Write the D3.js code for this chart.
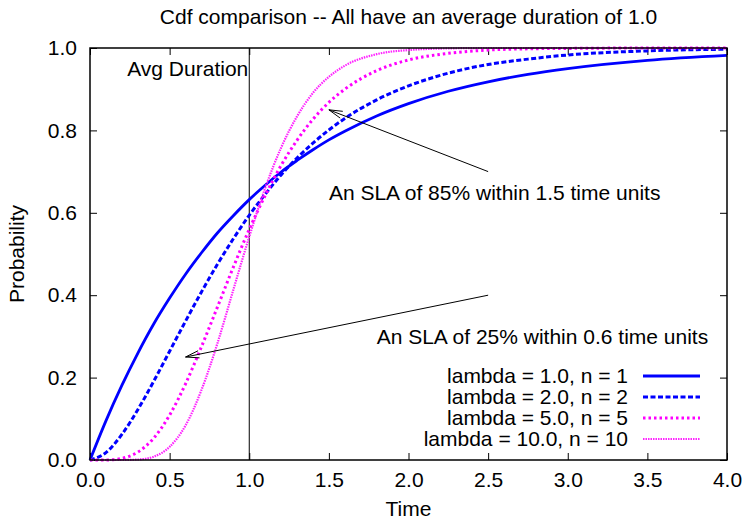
<!DOCTYPE html>
<html>
<head>
<meta charset="utf-8">
<script src="https://cdn.jsdelivr.net/npm/d3@7"></script>
<style>
  body { margin: 0; background: #fff; }
  svg text { font-family: "Liberation Sans", Arial, Helvetica, sans-serif; font-size: 21px; fill: #000; }
</style>
</head>
<body>
<div id="cdfChart"></div>
<script>
var times = [0, 0.1, 0.2, 0.3, 0.4, 0.5, 0.6, 0.7, 0.8, 0.9, 1.0, 1.1, 1.2, 1.3, 1.4, 1.5, 1.6, 1.8, 2.0, 2.25, 2.5, 2.75, 3.0, 3.5, 4.0];

// probability values, one array per curve
var cdf1  = [0, 0.095, 0.181, 0.259, 0.330, 0.393, 0.451, 0.503, 0.551, 0.593, 0.632, 0.667, 0.699, 0.727, 0.753, 0.777, 0.798, 0.835, 0.865, 0.895, 0.918, 0.936, 0.950, 0.970, 0.982];
var cdf2  = [0, 0.018, 0.062, 0.122, 0.191, 0.264, 0.337, 0.408, 0.475, 0.537, 0.594, 0.645, 0.692, 0.733, 0.769, 0.801, 0.829, 0.874, 0.908, 0.939, 0.960, 0.973, 0.983, 0.993, 0.997];
var cdf5  = [0, 0.000, 0.004, 0.019, 0.053, 0.109, 0.185, 0.275, 0.371, 0.468, 0.560, 0.642, 0.715, 0.776, 0.827, 0.868, 0.900, 0.945, 0.971, 0.987, 0.995, 0.998, 0.999, 1.000, 1.000];
var cdf10 = [0, 0.000, 0.000, 0.001, 0.008, 0.032, 0.084, 0.170, 0.283, 0.413, 0.542, 0.660, 0.758, 0.834, 0.891, 0.930, 0.957, 0.985, 0.995, 0.999, 1.000, 1.000, 1.000, 1.000, 1.000];

var seriesLabels = ["lambda = 1.0, n = 1", "lambda = 2.0, n = 2", "lambda = 5.0, n = 5", "lambda = 10.0, n = 10"];

var xTicks = [0, 0.5, 1.0, 1.5, 2.0, 2.5, 3.0, 3.5, 4.0];
var yTicks = [0, 0.2, 0.4, 0.6, 0.8, 1.0];

var avgDuration = 1.0;

// annotations: text at [x, y], arrow from -> to
var noteTexts = ["An SLA of 85% within 1.5 time units", "An SLA of 25% within 0.6 time units"];
var notePos = [[1.5, 0.65], [1.8, 0.3]];
var arrowFrom = [[2.5, 0.7], [2.5, 0.4]];
var arrowTo = [[1.5, 0.85], [0.6, 0.25]];

// line looks
var lineStyles = [
    {color: "#0000ff", width: 2.8, dash: null},
    {color: "#0000ff", width: 3, dash: "5,2.5"},
    {color: "#ff00ff", width: 3, dash: "2.5,3"},
    {color: "#ff22ff", width: 2.2, dash: "1.5,1"}
];

var margin = {top: 48, right: 16, bottom: 60, left: 90},
    width = 743 - margin.left - margin.right,
    height = 520 - margin.top - margin.bottom;

var root = d3.select("#cdfChart")
  .append("svg")
    .attr("width", 743)
    .attr("height", 520);

var svg = root.append("g")
    .attr("transform", "translate(" + margin.left + "," + margin.top + ")");

var xScale = d3.scaleLinear().domain([0, 4]).range([0, width]);
var yScale = d3.scaleLinear().domain([0, 1]).range([height, 0]);

// title and axis titles
root.append("text")
    .attr("x", margin.left + width / 2)
    .attr("y", 24)
    .attr("text-anchor", "middle")
    .text("Cdf comparison -- All have an average duration of 1.0");

root.append("text")
    .attr("x", margin.left + width / 2)
    .attr("y", 516)
    .attr("text-anchor", "middle")
    .text("Time");

root.append("text")
    .attr("transform", "translate(24," + (margin.top + height / 2) + ") rotate(-90)")
    .attr("text-anchor", "middle")
    .text("Probability");

// axes, ticks pointing inwards on all four sides
const styleAxis = g => {
    g.select(".domain").remove();
    g.selectAll("line").attr("stroke", "#000");
    g.selectAll("text").style("font-size", "21px").attr("fill", "#000");
};

svg.append("g")
    .attr("transform", "translate(0," + height + ")")
    .call(d3.axisBottom(xScale).tickValues(xTicks).tickFormat(d3.format(".1f"))
        .tickSizeInner(-7).tickSizeOuter(0).tickPadding(12))
    .call(styleAxis);
svg.append("g")
    .call(d3.axisTop(xScale).tickValues(xTicks).tickFormat("")
        .tickSizeInner(-7).tickSizeOuter(0))
    .call(styleAxis);
svg.append("g")
    .call(d3.axisLeft(yScale).tickValues(yTicks).tickFormat(d3.format(".1f"))
        .tickSizeInner(-7).tickSizeOuter(0).tickPadding(13))
    .call(styleAxis);
svg.append("g")
    .attr("transform", "translate(" + width + ",0)")
    .call(d3.axisRight(yScale).tickValues(yTicks).tickFormat("")
        .tickSizeInner(-7).tickSizeOuter(0))
    .call(styleAxis);

// average duration marker
svg.append("line")
    .attr("x1", xScale(avgDuration)).attr("x2", xScale(avgDuration))
    .attr("y1", yScale(0)).attr("y2", yScale(1))
    .attr("stroke", "#000").attr("stroke-width", 1);
svg.append("text")
    .attr("x", xScale(avgDuration) - 1)
    .attr("y", yScale(0.95))
    .attr("dy", "0.35em")
    .attr("text-anchor", "end")
    .text("Avg Duration");

// curves
var allSeries = [cdf1, cdf2, cdf5, cdf10];
var line = d3.line()
    .x((d, i) => xScale(times[i]))
    .y(d => yScale(d))
    .curve(d3.curveMonotoneX);

svg.selectAll("path.curve")
    .data(allSeries)
    .enter()
    .append("path")
    .attr("class", "curve")
    .attr("d", d => line(d))
    .attr("fill", "none")
    .attr("stroke", (d, i) => lineStyles[i].color)
    .attr("stroke-width", (d, i) => lineStyles[i].width)
    .attr("stroke-dasharray", (d, i) => lineStyles[i].dash);

// annotation texts and arrows
svg.selectAll("text.note")
    .data(noteTexts)
    .enter()
    .append("text")
    .attr("class", "note")
    .attr("x", (d, i) => xScale(notePos[i][0]))
    .attr("y", (d, i) => yScale(notePos[i][1]))
    .attr("dy", "0.35em")
    .text(d => d);

arrowFrom.forEach((from, i) => {
    var x1 = xScale(from[0]), y1 = yScale(from[1]);
    var x2 = xScale(arrowTo[i][0]), y2 = yScale(arrowTo[i][1]);
    var ang = Math.atan2(y1 - y2, x1 - x2);
    var len = 14, spread = Math.PI / 12;
    svg.append("line")
        .attr("x1", x1).attr("y1", y1).attr("x2", x2).attr("y2", y2)
        .attr("stroke", "#000").attr("stroke-width", 1);
    svg.append("path")
        .attr("d", "M" + (x2 + len * Math.cos(ang + spread)) + "," + (y2 + len * Math.sin(ang + spread)) +
                   "L" + x2 + "," + y2 +
                   "L" + (x2 + len * Math.cos(ang - spread)) + "," + (y2 + len * Math.sin(ang - spread)))
        .attr("fill", "none")
        .attr("stroke", "#000")
        .attr("stroke-width", 1);
});

// legend, lower right inside the plot
var legend = root.append("g")
    .attr("transform", "translate(628,376)");

var rows = legend.selectAll("g")
    .data(seriesLabels)
    .enter()
    .append("g")
    .attr("transform", (d, i) => "translate(0," + (i * 21) + ")");

rows.append("text")
    .attr("text-anchor", "end")
    .attr("dy", "0.35em")
    .text(d => d);

rows.append("line")
    .attr("x1", 15).attr("x2", 72)
    .attr("y1", 0).attr("y2", 0)
    .attr("stroke", (d, i) => lineStyles[i].color)
    .attr("stroke-width", (d, i) => lineStyles[i].width)
    .attr("stroke-dasharray", (d, i) => lineStyles[i].dash);

// plot frame
svg.append("rect")
    .attr("width", width)
    .attr("height", height)
    .attr("fill", "none")
    .attr("stroke", "#000")
    .attr("stroke-width", 1.5);
</script>
</body>
</html>
